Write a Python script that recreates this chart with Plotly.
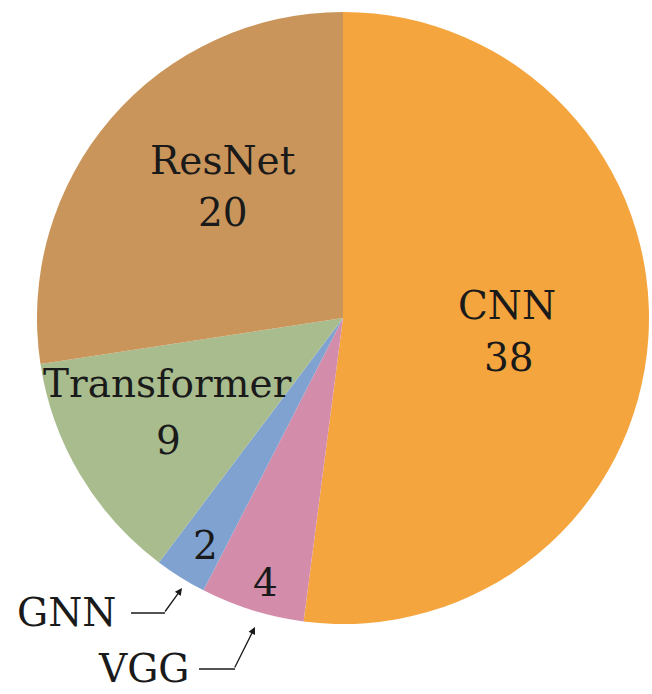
import plotly.graph_objects as go

labels = ["CNN", "VGG", "GNN", "Transformer", "ResNet"]
values = [38, 4, 2, 9, 20]
colors = ["#F5A53E", "#D38DAA", "#7FA2D0", "#A9BC8E", "#C9955A"]

W, H = 652, 694

def px(x):
    return x / W

def py(y):
    return 1 - y / H

fig = go.Figure(go.Pie(
    labels=labels, values=values, sort=False, direction="clockwise", rotation=0,
    marker=dict(colors=colors, line=dict(width=0)),
    textinfo="none", hoverinfo="label+value", showlegend=False,
    domain=dict(x=[px(37), px(649)], y=[py(624), py(12)]),
))

FONT = dict(family="DejaVu Serif", size=39, color="#1a1a1a")

def txt(x, y, s):
    return dict(x=px(x), y=py(y), xref="paper", yref="paper", text=s, showarrow=False,
                font=FONT, xanchor="center", yanchor="middle")

anns = []
inside = {
    "CNN": ((507, 305), (509, 358)),
    "ResNet": ((223, 160), (223, 213)),
    "Transformer": ((167, 383), (168, 440)),
}
for lab, val in zip(labels, values):
    if lab in inside:
        (x1, y1), (x2, y2) = inside[lab]
        anns.append(txt(x1, y1, lab))
        anns.append(txt(x2, y2, str(val)))

vals = dict(zip(labels, values))
anns.append(txt(205, 545, str(vals["GNN"])))
anns.append(txt(265, 582, str(vals["VGG"])))
anns.append(txt(66, 612, "GNN"))
anns.append(txt(143, 668, "VGG"))

def arrow(tipx, tipy, tailx, taily):
    return dict(x=px(tipx), y=py(tipy), xref="paper", yref="paper", text="",
                showarrow=True, ax=tailx - tipx, ay=taily - tipy, axref="pixel", ayref="pixel",
                arrowhead=2, arrowsize=1.1, arrowwidth=1.3, arrowcolor="#1a1a1a", standoff=0)

anns.append(arrow(182, 588, 164, 613))
anns.append(arrow(255, 627, 234, 669))

shapes = [
    dict(type="line", xref="paper", yref="paper", x0=px(131), y0=py(613), x1=px(165), y1=py(613),
         line=dict(color="#1a1a1a", width=1.3)),
    dict(type="line", xref="paper", yref="paper", x0=px(199), y0=py(669), x1=px(235), y1=py(669),
         line=dict(color="#1a1a1a", width=1.3)),
]

fig.update_layout(
    width=W, height=H, margin=dict(l=0, r=0, t=0, b=0),
    paper_bgcolor="white", plot_bgcolor="white",
    annotations=anns, shapes=shapes,
)
fig.write_html("out.html", config={"displayModeBar": False},
               post_script="document.body.style.margin='0px';document.body.style.overflow='hidden';")
